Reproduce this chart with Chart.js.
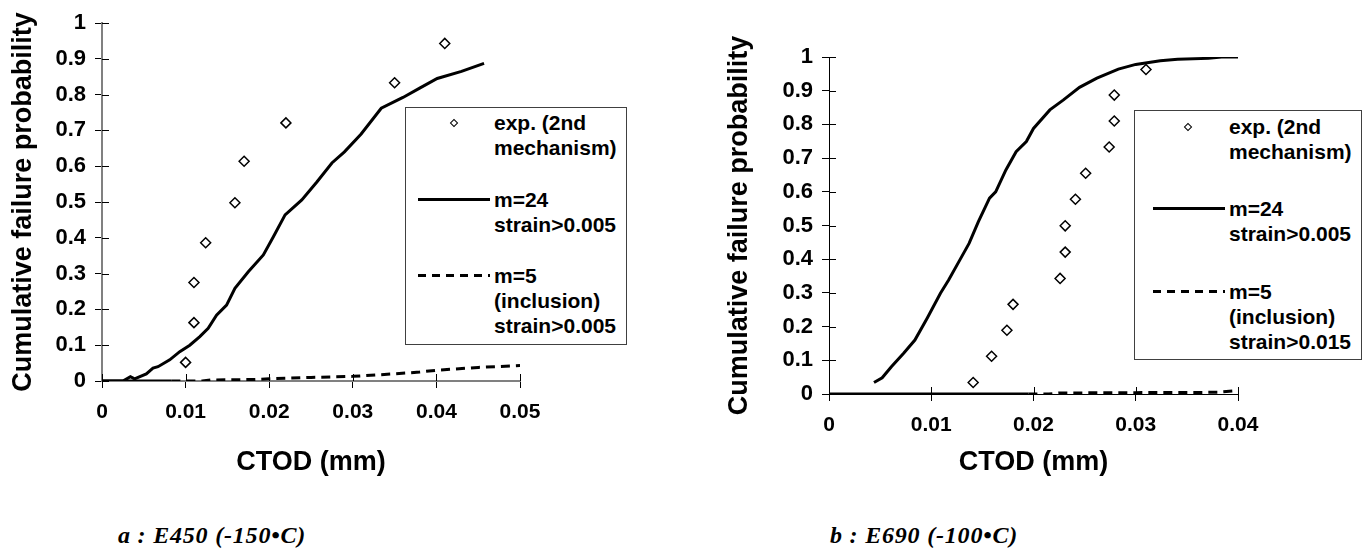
<!DOCTYPE html>
<html>
<head>
<meta charset="utf-8">
<script src="https://cdn.jsdelivr.net/npm/chart.js@4.4.1/dist/chart.umd.min.js"></script>
<style>
  body { margin: 0; background: #fff; width: 1364px; height: 550px; position: relative; overflow: hidden; font-family: "Liberation Sans", Arial, sans-serif; }
  canvas { position: absolute; top: 0; }
  #chartA { left: 0; }
  #chartB { left: 700px; }
  .legend { position: absolute; box-sizing: border-box; border: 1px solid #404040; background: #fff; font-weight: bold; font-size: 21px; line-height: 25px; color: #000; }
  .legend .txt { position: absolute; white-space: nowrap; }
  .legend .solid { position: absolute; height: 3px; background: #000; }
  .legend .dash { position: absolute; height: 3px; background: repeating-linear-gradient(to right, #000 0 8px, transparent 8px 14px); }
  .legend .diamond { position: absolute; width: 4px; height: 4px; border: 1.5px solid #000; transform: rotate(45deg); }
  .caption { position: absolute; top: 522px; font-family: "Liberation Serif", "Times New Roman", serif; font-style: italic; font-weight: bold; font-size: 24px; letter-spacing: 0.8px; white-space: nowrap; }
</style>
</head>
<body>
<canvas id="chartA" width="560" height="500"></canvas>
<canvas id="chartB" width="664" height="500"></canvas>

<div class="legend" style="left:405px; top:107px; width:222px; height:238px;">
  <div class="diamond" style="left:45px; top:12px;"></div>
  <div class="txt" style="left:88px; top:2px;">exp. (2nd<br>mechanism)</div>
  <div class="solid" style="left:12px; top:90px; width:72px;"></div>
  <div class="txt" style="left:88px; top:79px;">m=24<br>strain&gt;0.005</div>
  <div class="dash" style="left:12px; top:166px; width:72px;"></div>
  <div class="txt" style="left:88px; top:155px;">m=5<br>(inclusion)<br>strain&gt;0.005</div>
</div>

<div class="legend" style="left:1134px; top:110px; width:228px; height:250px;">
  <div class="diamond" style="left:50px; top:13px;"></div>
  <div class="txt" style="left:94px; top:3px;">exp. (2nd<br>mechanism)</div>
  <div class="solid" style="left:18px; top:96px; width:72px;"></div>
  <div class="txt" style="left:94px; top:85px;">m=24<br>strain&gt;0.005</div>
  <div class="dash" style="left:18px; top:179px; width:72px;"></div>
  <div class="txt" style="left:94px; top:168px;">m=5<br>(inclusion)<br>strain&gt;0.015</div>
</div>

<div class="caption" style="left:118px;">a : E450 (-150•C)</div>
<div class="caption" style="left:830px;">b : E690 (-100•C)</div>

<script>
// a : E450 (-150 C)
var ctodExpA = [0.0100, 0.0110, 0.0110, 0.0124, 0.0159, 0.0170, 0.0220, 0.0350, 0.0410];
var probExpA = [0.052, 0.163, 0.275, 0.386, 0.498, 0.614, 0.721, 0.833, 0.943];
var ctodM24A = [0, 0.0025, 0.0034, 0.0039, 0.0053, 0.0061, 0.0067, 0.0081, 0.0093, 0.0105,
  0.0117, 0.0127, 0.0137, 0.0149, 0.0159, 0.0175, 0.0193, 0.0205, 0.0219, 0.0239,
  0.0257, 0.0275, 0.0290, 0.0310, 0.0334, 0.0360, 0.0380, 0.0401, 0.0430, 0.0457];
var probM24A = [0, 0, 0.012, 0.006, 0.020, 0.036, 0.040, 0.059, 0.082, 0.100,
  0.124, 0.147, 0.184, 0.212, 0.259, 0.305, 0.352, 0.403, 0.464, 0.506,
  0.556, 0.609, 0.640, 0.690, 0.762, 0.792, 0.818, 0.845, 0.865, 0.887];
var ctodM5A = [0, 0.0083, 0.0120, 0.0130, 0.0180, 0.0200, 0.0250, 0.0300, 0.0350, 0.0380, 0.0400, 0.0450, 0.0500];
var probM5A = [0, 0, 0, 0.003, 0.004, 0.006, 0.010, 0.013, 0.020, 0.025, 0.030, 0.038, 0.043];

// b : E690 (-100 C)
var ctodExpB = [0.0141, 0.0159, 0.0174, 0.0180, 0.0226, 0.0231, 0.0231, 0.0241, 0.0251, 0.0274, 0.0279, 0.0279, 0.0310];
var probExpB = [0.034, 0.112, 0.189, 0.266, 0.343, 0.421, 0.499, 0.578, 0.655, 0.733, 0.810, 0.887, 0.963];
var ctodM24B = [0.0044, 0.0052, 0.0061, 0.0073, 0.0084, 0.0096, 0.0109, 0.0117, 0.0128, 0.0137,
  0.0146, 0.0157, 0.0163, 0.0173, 0.0183, 0.0193, 0.0200, 0.0216, 0.0229, 0.0245,
  0.0262, 0.0283, 0.0300, 0.0324, 0.0341, 0.0371, 0.0384, 0.0400];
var probM24B = [0.034, 0.048, 0.081, 0.121, 0.160, 0.225, 0.299, 0.338, 0.398, 0.447,
  0.511, 0.581, 0.600, 0.665, 0.719, 0.749, 0.788, 0.843, 0.872, 0.910,
  0.937, 0.964, 0.978, 0.989, 0.993, 0.996, 1.000, 1.000];
var ctodM5B = [0, 0.0195, 0.0215, 0.0225, 0.0300, 0.0380, 0.0400];
var probM5B = [0, 0, 0, 0.003, 0.004, 0.005, 0.010];

Chart.defaults.font.family = "'Liberation Sans', Arial, sans-serif";
Chart.defaults.font.weight = 'bold';
Chart.defaults.color = '#000';

function pts(xs, ys) {
  return xs.map(function (x, i) { return { x: x, y: ys[i] }; });
}

// excel style ticks cross the axis line
var crossTicks = {
  id: 'crossTicks',
  beforeDatasetsDraw: function (chart) {
    var ctx = chart.ctx, a = chart.chartArea;
    var sx = chart.scales.x, sy = chart.scales.y;
    ctx.save();
    ctx.strokeStyle = '#000';
    ctx.lineWidth = 1;
    ctx.beginPath();
    sx.ticks.forEach(function (t) {
      var px = Math.round(sx.getPixelForValue(t.value)) + 0.5;
      ctx.moveTo(px, a.bottom);
      ctx.lineTo(px, a.bottom - 7);
    });
    sy.ticks.forEach(function (t) {
      var py = Math.round(sy.getPixelForValue(t.value)) + 0.5;
      ctx.moveTo(a.left, py);
      ctx.lineTo(a.left + 7, py);
    });
    ctx.stroke();
    ctx.restore();
  }
};

function makeChart(id, o) {
  return new Chart(id, {
    type: 'scatter',
    data: {
      datasets: [
        {
          label: 'exp. (2nd mechanism)',
          data: pts(o.expX, o.expY),
          showLine: false,
          pointStyle: 'rectRot',
          pointRadius: 5,
          pointBorderWidth: 1.5,
          pointBorderColor: '#000',
          pointBackgroundColor: '#fff',
        },
        {
          label: 'm=24',
          data: pts(o.m24X, o.m24Y),
          showLine: true,
          borderColor: '#000',
          borderWidth: 3,
          pointRadius: 0,
        },
        {
          label: 'm=5',
          data: pts(o.m5X, o.m5Y),
          showLine: true,
          borderColor: '#000',
          borderWidth: 3,
          pointRadius: 0,
          segment: {
            borderDash: function (ctx) { return ctx.p1.parsed.x <= o.solidUntil ? [] : [9, 6]; },
          },
        },
      ],
    },
    options: {
      responsive: false,
      animation: false,
      devicePixelRatio: 1,
      layout: { padding: o.pad },
      plugins: { legend: { display: false }, tooltip: { enabled: false } },
      scales: {
        x: {
          type: 'linear',
          min: 0,
          max: o.xMax,
          afterFit: function (s) { s.height = o.xAxisH; },
          border: { color: o.axisColor, width: o.axisWidth },
          grid: { drawOnChartArea: false, tickLength: 7, color: '#000' },
          ticks: {
            stepSize: 0.01,
            padding: 12,
            maxRotation: 0,
            font: { size: 21, weight: 'bold' },
            callback: function (v) { return String(+v.toFixed(2)); },
          },
          title: { display: true, text: 'CTOD (mm)', font: { size: 27, weight: 'bold' }, padding: { top: 0, bottom: 21 } },
        },
        y: {
          min: 0,
          max: 1,
          afterFit: function (s) { s.width = o.yAxisW; },
          border: { color: o.axisColor, width: o.axisWidth },
          grid: { drawOnChartArea: false, tickLength: 7, color: '#000' },
          ticks: {
            stepSize: 0.1,
            padding: 9,
            font: { size: 22, weight: 'bold' },
            callback: function (v) { return String(+v.toFixed(1)); },
          },
          title: { display: true, text: 'Cumulative failure probability', font: { size: 27, weight: 'bold' }, padding: { top: o.yTitlePad, bottom: 0 } },
        },
      },
    },
    plugins: [crossTicks],
  });
}

makeChart('chartA', {
  expX: ctodExpA, expY: probExpA,
  m24X: ctodM24A, m24Y: probM24A,
  m5X: ctodM5A, m5Y: probM5A,
  solidUntil: 0.0083,
  xMax: 0.05,
  pad: { left: 0, top: 23, right: 40, bottom: 0 },
  xAxisH: 119,
  yAxisW: 102,
  yTitlePad: 7,
  axisColor: '#808080',
  axisWidth: 2,
});

makeChart('chartB', {
  expX: ctodExpB, expY: probExpB,
  m24X: ctodM24B, m24Y: probM24B,
  m5X: ctodM5B, m5Y: probM5B,
  solidUntil: 0.0195,
  xMax: 0.04,
  pad: { left: 0, top: 57, right: 126, bottom: 0 },
  xAxisH: 106,
  yAxisW: 129,
  yTitlePad: 23,
  axisColor: '#000',
  axisWidth: 1,
});
</script>
</body>
</html>
